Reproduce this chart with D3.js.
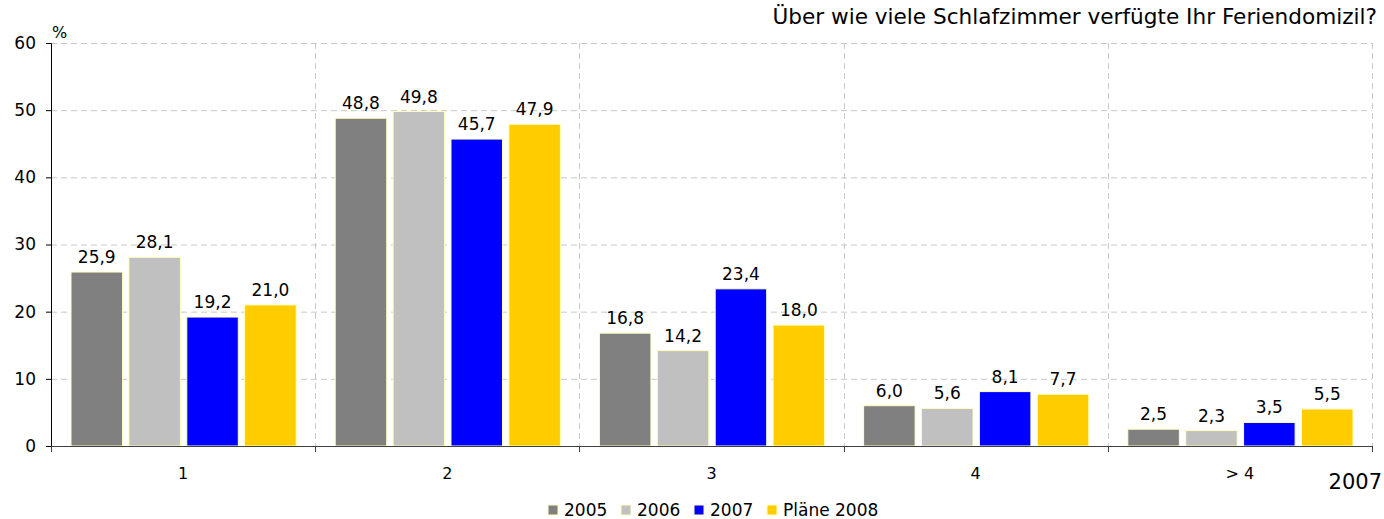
<!DOCTYPE html>
<html lang="de">
<head>
<meta charset="UTF-8">
<title>Schlafzimmer</title>
<script src="https://cdn.jsdelivr.net/npm/d3@7"></script>
<style>
  body { margin: 0; background: #fff; }
  text { font-family: "DejaVu Sans", Verdana, sans-serif; fill: #000; }
</style>
</head>
<body>
<div id="chart"></div>
<script>
// data
const categories = ["1", "2", "3", "4", "> 4"];
const seriesNames = ["2005", "2006", "2007", "Pläne 2008"];
const v2005 = [25.9, 48.8, 16.8, 6.0, 2.5];
const v2006 = [28.1, 49.8, 14.2, 5.6, 2.3];
const v2007 = [19.2, 45.7, 23.4, 8.1, 3.5];
const v2008 = [21.0, 47.9, 18.0, 7.7, 5.5];
const yTicks = [0, 10, 20, 30, 40, 50, 60];
const colors = ["#808080", "#c0c0c0", "#0000ff", "#ffcc00"];

const series = [v2005, v2006, v2007, v2008];

const W = 1384, H = 519;
const margin = { top: 43, right: 12, bottom: 73, left: 51 };
const width = W - margin.left - margin.right;
const height = H - margin.top - margin.bottom;

const svg = d3.select("#chart").append("svg")
    .attr("width", W).attr("height", H);

const g = svg.append("g")
    .attr("transform", `translate(${margin.left},${margin.top})`);

const x0 = d3.scaleBand().domain(categories).range([0, width]).paddingInner(0).paddingOuter(0);
const x1 = d3.scaleBand().domain(d3.range(series.length))
    .range([20, x0.bandwidth() - 19]).paddingInner(0.11);
const y = d3.scaleLinear().domain([0, 60]).range([height, 0]);

// horizontal grid
g.selectAll(".hgrid").data(yTicks.filter(d => d > 0)).enter()
  .append("line")
    .attr("x1", 0).attr("x2", width)
    .attr("y1", d => y(d) + 0.5).attr("y2", d => y(d) + 0.5)
    .attr("stroke", "#c8c8c8").attr("stroke-dasharray", "6,4");

// vertical grid at category boundaries
g.selectAll(".vgrid").data(categories).enter()
  .append("line")
    .attr("x1", d => Math.round(x0(d) + x0.bandwidth()) + 0.5)
    .attr("x2", d => Math.round(x0(d) + x0.bandwidth()) + 0.5)
    .attr("y1", 0).attr("y2", height)
    .attr("stroke", "#c8c8c8").attr("stroke-dasharray", "6,4");

// bars
const groups = g.selectAll(".cat").data(categories).enter()
  .append("g").attr("transform", d => `translate(${x0(d)},0)`);

groups.each(function(c, ci) {
  const grp = d3.select(this);
  series.forEach((s, si) => {
    grp.append("rect")
      .attr("x", x1(si))
      .attr("y", y(s[ci]))
      .attr("width", x1.bandwidth())
      .attr("height", height - y(s[ci]))
      .attr("fill", colors[si])
      .attr("stroke", "#ffffc0").attr("stroke-width", 1);
    grp.append("text")
      .attr("x", x1(si) + x1.bandwidth() / 2)
      .attr("y", y(s[ci]) - 9)
      .attr("text-anchor", "middle")
      .style("font-size", "17px")
      .text(s[ci].toFixed(1).replace(".", ","));
  });
});

// y axis
const yAxis = g.append("g")
  .call(d3.axisLeft(y).tickValues(yTicks).tickSize(5).tickPadding(10));
yAxis.selectAll("text").style("font-size", "17px");
yAxis.select(".domain").attr("stroke", "#000");

// x axis
const xAxis = g.append("g")
  .attr("transform", `translate(0,${height})`)
  .call(d3.axisBottom(x0).tickSize(0).tickPadding(22));
xAxis.selectAll("text").style("font-size", "16px");
xAxis.select(".domain").attr("stroke", "#404040");
g.append("g").attr("transform", `translate(0,${height})`)
  .selectAll("line").data([0].concat(categories.map(c => x0(c) + x0.bandwidth()))).enter()
  .append("line")
    .attr("x1", d => Math.round(d) + 0.5).attr("x2", d => Math.round(d) + 0.5)
    .attr("y1", 0).attr("y2", 6).attr("stroke", "#404040");

// labels
svg.append("text").attr("x", 52).attr("y", 38)
  .style("font-size", "16px").text("%");
svg.append("text").attr("x", 1377).attr("y", 24).attr("text-anchor", "end")
  .style("font-size", "21.6px").text("Über wie viele Schlafzimmer verfügte Ihr Feriendomizil?");
svg.append("text").attr("x", 1382).attr("y", 489).attr("text-anchor", "end")
  .style("font-size", "21px").text("2007");

// legend
const legend = svg.append("g").attr("transform", "translate(548,516)");
const legendX = [0, 73, 146, 219];
seriesNames.forEach((n, i) => {
  legend.append("rect").attr("x", legendX[i]).attr("y", -11).attr("width", 10).attr("height", 10)
    .attr("fill", colors[i]).attr("stroke", "#ffffc0");
  legend.append("text").attr("x", legendX[i] + 16).attr("y", 0)
    .style("font-size", "17px").text(n);
});
</script>
</body>
</html>
